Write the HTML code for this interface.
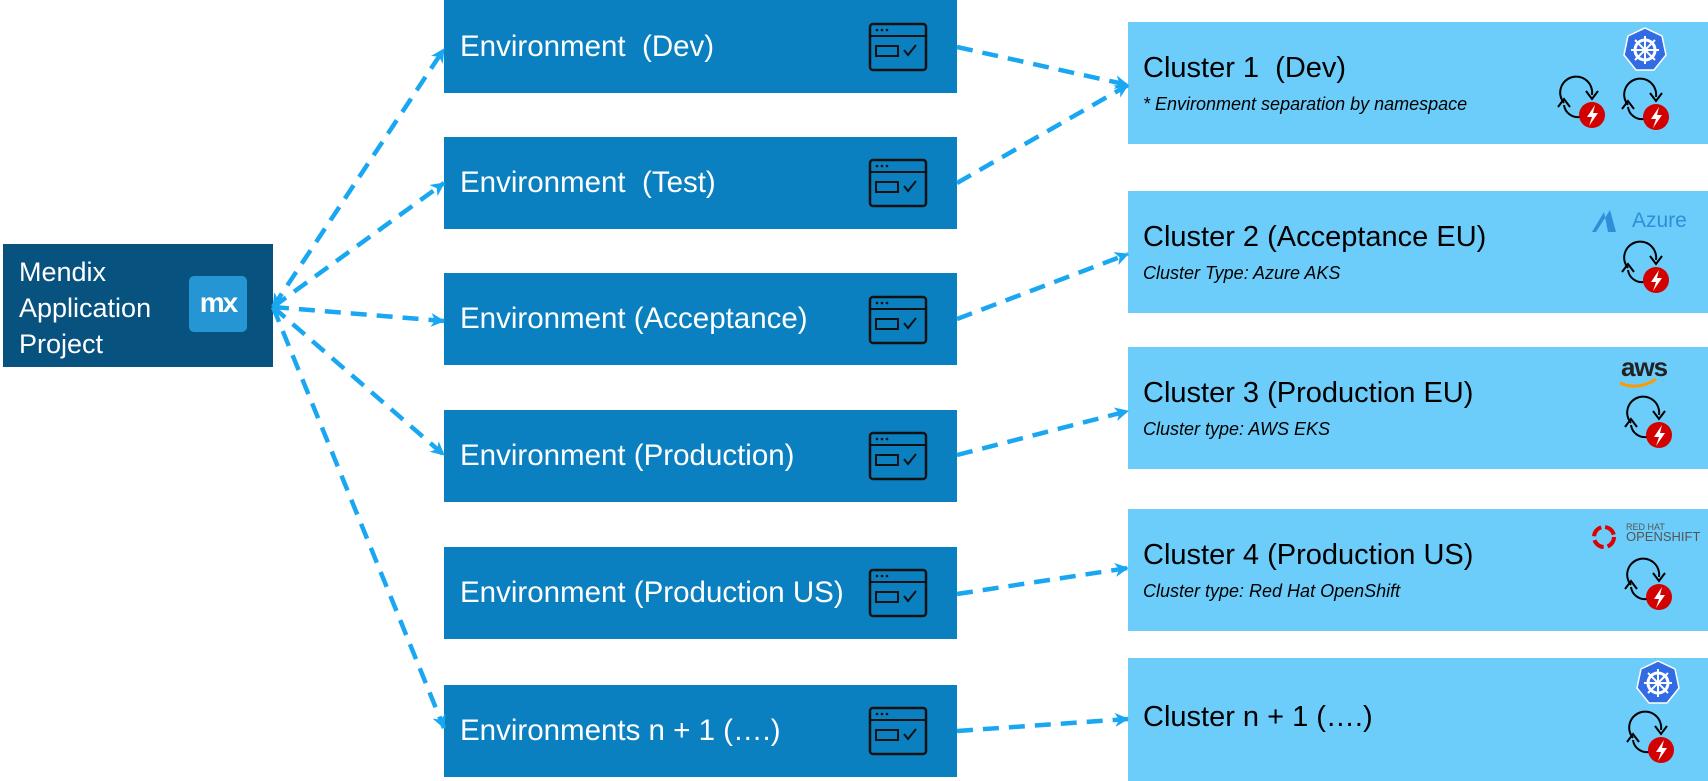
<!DOCTYPE html>
<html><head><meta charset="utf-8"><style>
body{margin:0;width:1708px;height:781px;background:#fff;position:relative;overflow:hidden;font-family:"Liberation Sans",sans-serif}
.b{position:absolute}
.env{background:#0a80c0;left:444px;width:513px;height:92px}
.env span{position:absolute;left:16px;top:50%;transform:translateY(-50%);color:#fff;font-size:29.5px;white-space:nowrap}
.cl{background:#6ccdfa;left:1128px;width:580px}
.t{position:absolute;left:15px;font-size:29px;color:#000;white-space:nowrap}
.s{position:absolute;left:15px;font-size:18px;font-style:italic;color:#000;white-space:nowrap}
</style></head><body>
<div class="b" style="left:3px;top:244px;width:270px;height:123px;background:#07527f">
<div style="position:absolute;left:16px;top:10px;color:#fff;font-size:27px;line-height:36px">Mendix<br>Application<br>Project</div>
<div style="position:absolute;left:186px;top:32px;width:58px;height:56px;background:#2596d3;border-radius:5px;color:#fff;font-weight:bold;font-size:28px;text-align:center;line-height:54px;letter-spacing:-2px">mx</div>
</div>
<div class="b env" style="top:0;height:93px"><span>Environment&nbsp; (Dev)</span></div>
<div class="b env" style="top:137px"><span>Environment&nbsp; (Test)</span></div>
<div class="b env" style="top:273px"><span>Environment (Acceptance)</span></div>
<div class="b env" style="top:410px"><span>Environment (Production)</span></div>
<div class="b env" style="top:547px"><span>Environment (Production US)</span></div>
<div class="b env" style="top:685px"><span>Environments n + 1 (….)</span></div>

<div class="b cl" style="top:22px;height:122px"><div class="t" style="top:30px">Cluster 1&nbsp; (Dev)</div><div class="s" style="top:72px">* Environment separation by namespace</div></div>
<div class="b cl" style="top:191px;height:122px"><div class="t" style="top:30px">Cluster 2 (Acceptance EU)</div><div class="s" style="top:72px">Cluster Type: Azure AKS</div></div>
<div class="b cl" style="top:347px;height:122px"><div class="t" style="top:30px">Cluster 3 (Production EU)</div><div class="s" style="top:72px">Cluster type: AWS EKS</div></div>
<div class="b cl" style="top:509px;height:122px"><div class="t" style="top:30px">Cluster 4 (Production US)</div><div class="s" style="top:72px">Cluster type: Red Hat OpenShift</div></div>
<div class="b cl" style="top:658px;height:123px"><div class="t" style="top:43px">Cluster n + 1 (….)</div></div>

<div class="b" style="left:1632px;top:209px;color:#2e8fd8;font-size:21px">Azure</div>
<div class="b" style="left:1621px;top:352px;color:#222;font-size:26px;font-weight:bold;letter-spacing:-1px">aws</div>
<div class="b" style="left:1626px;top:523px;color:#555;font-size:9px;line-height:9px">RED HAT<br><span style="font-size:13px">OPENSHIFT</span></div>

<svg class="b" style="left:0;top:0" width="1708" height="781">
<defs>
<marker id="a" markerWidth="18" markerHeight="18" refX="15" refY="9" orient="auto-start-reverse" markerUnits="userSpaceOnUse"><path d="M2,2 L16,9 L2,16 L6,9 z" fill="#1aa7f2"/></marker>
<g id="win"><rect x="0" y="0" width="56" height="46" rx="3" fill="none" stroke="#111" stroke-width="2.5"/><line x1="0" y1="12" x2="56" y2="12" stroke="#111" stroke-width="2"/><circle cx="7" cy="6" r="1.3"/><circle cx="12" cy="6" r="1.3"/><circle cx="17" cy="6" r="1.3"/><rect x="6" y="22" width="22" height="10" fill="none" stroke="#111" stroke-width="2"/><path d="M34,26 l4,5 l8,-10" fill="none" stroke="#111" stroke-width="2"/></g>
<g id="cyc"><path d="M-12,8 a16,16 0 1 1 28,-8" fill="none" stroke="#000" stroke-width="2"/><path d="M10,-4 l6,8 l6,-8" fill="none" stroke="#000" stroke-width="2"/><path d="M-12,10 a14,14 0 0 0 16,12" fill="none" stroke="#000" stroke-width="2"/><path d="M-18,12 l6,-8 l6,8" fill="none" stroke="#000" stroke-width="2"/><circle cx="16" cy="20" r="13" fill="#d30000"/><path d="M19,10 l-8,12 h5 l-3,9 l9,-13 h-5 z" fill="#fff"/></g>
<g id="k8"><polygon points="0,-22 17,-14 21,5 9,20 -9,20 -21,5 -17,-14" fill="#326ce5" stroke="#fff" stroke-width="1.5"/><circle r="10" fill="none" stroke="#fff" stroke-width="3"/><path d="M0,-14V14M-14,0H14M-10,-10L10,10M10,-10L-10,10" stroke="#fff" stroke-width="2"/></g>
</defs>
<g fill="#111">
<use href="#win" x="870" y="24"/><use href="#win" x="870" y="160"/><use href="#win" x="870" y="297"/><use href="#win" x="870" y="433"/><use href="#win" x="870" y="570"/><use href="#win" x="870" y="708"/>
</g>
<use href="#k8" x="1645" y="50"/><use href="#k8" x="1658" y="683"/>
<use href="#cyc" x="1576" y="95"/><use href="#cyc" x="1640" y="97"/>
<use href="#cyc" x="1640" y="260"/><use href="#cyc" x="1643" y="415"/><use href="#cyc" x="1643" y="577"/><use href="#cyc" x="1645" y="730"/>
<path d="M1604,212 l-12,20 h16 z M1610,210 l6,22 h-20 z" fill="#2e8fd8"/>
<path d="M1620,383 q18,8 36,-4" fill="none" stroke="#f90" stroke-width="3"/>
<circle cx="1604" cy="537" r="10" fill="none" stroke="#d00" stroke-width="4" stroke-dasharray="12 4"/>
<g stroke="#1aa7f2" stroke-width="4.5" stroke-dasharray="16 10" fill="none">
<line x1="273" y1="307" x2="444" y2="49" marker-start="url(#a)" marker-end="url(#a)"/>
<line x1="273" y1="307" x2="444" y2="183" marker-end="url(#a)"/>
<line x1="273" y1="307" x2="444" y2="321" marker-end="url(#a)"/>
<line x1="273" y1="307" x2="444" y2="455" marker-end="url(#a)"/>
<line x1="273" y1="307" x2="444" y2="728" marker-end="url(#a)"/>
<line x1="957" y1="47" x2="1128" y2="85" marker-end="url(#a)"/>
<line x1="957" y1="183" x2="1128" y2="85" marker-end="url(#a)"/>
<line x1="957" y1="319" x2="1128" y2="254" marker-end="url(#a)"/>
<line x1="957" y1="455" x2="1128" y2="411" marker-end="url(#a)"/>
<line x1="957" y1="594" x2="1128" y2="568" marker-end="url(#a)"/>
<line x1="957" y1="731" x2="1128" y2="719" marker-end="url(#a)"/>
</g>
</svg>
</body></html>
